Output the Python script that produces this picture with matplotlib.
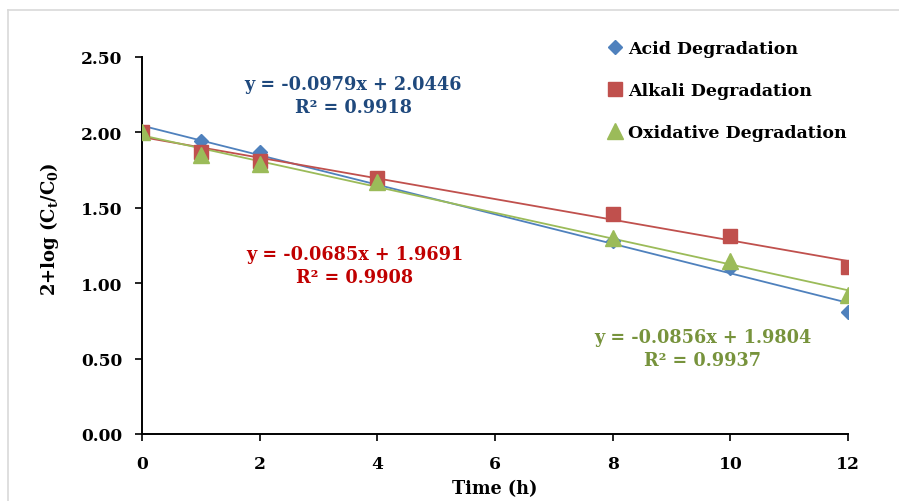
import numpy as np
import matplotlib.pyplot as plt
from matplotlib.lines import Line2D

# degradation data
time_h = [0, 1, 2, 4, 8, 10, 12]
acid = [2.00, 1.94, 1.87, 1.67, 1.28, 1.10, 0.81]
alkali = [2.00, 1.87, 1.81, 1.70, 1.46, 1.31, 1.11]
oxid = [2.00, 1.85, 1.79, 1.67, 1.30, 1.15, 0.92]

# trendline coefficients as printed on the chart
slopes = [-0.0979, -0.0685, -0.0856]
intercepts = [2.0446, 1.9691, 1.9804]
r2 = [0.9918, 0.9908, 0.9937]

labels = ["Acid Degradation", "Alkali Degradation", "Oxidative Degradation"]
markers = ["D", "s", "^"]
msizes = [7.5, 10, 11]
colors = ["#4F81BD", "#C0504D", "#9BBB59"]
text_colors = ["#1F497D", "#C00000", "#77933C"]
eq_pos = [(3.59, 2.245), (3.62, 1.117), (9.53, 0.567)]

FONT = "DejaVu Serif"
plt.rcParams['font.family'] = FONT
plt.rcParams['font.weight'] = 'bold'

fig = plt.figure(figsize=(8.99, 5.02), dpi=100)
ax = fig.add_axes([142/899, 1-435/502, (848-142)/899, (435-58)/502])

series = [acid, alkali, oxid]
xs = np.array([0, 12])
handles = []
for i in range(3):
    ax.plot(xs, slopes[i]*xs + intercepts[i], color=colors[i], lw=1.3, zorder=2)
for i in range(3):
    ax.plot(time_h, series[i], ls='none', marker=markers[i], ms=msizes[i],
            color=colors[i], zorder=3)
    handles.append(Line2D([], [], ls='none', marker=markers[i], ms=msizes[i],
                          color=colors[i]))
    ax.text(eq_pos[i][0], eq_pos[i][1],
            "y = {:.4f}x + {:.4f}\nR² = {:.4f}".format(slopes[i], intercepts[i], r2[i]),
            color=text_colors[i], fontsize=12.7, fontweight='bold',
            ha='center', va='center', linespacing=1.4)

ax.set_xlim(0, 12)
ax.set_ylim(0, 2.5)
ax.set_xticks(np.arange(0, 13, 2))
ax.set_yticks(np.arange(0, 2.51, 0.5))
ax.set_yticklabels(["{:.2f}".format(v) for v in np.arange(0, 2.51, 0.5)])
for s in ['top', 'right']:
    ax.spines[s].set_visible(False)
for s in ['left', 'bottom']:
    ax.spines[s].set_linewidth(1.4)
ax.tick_params(direction='out', length=5, width=1.2, labelsize=12.3)
ax.tick_params(axis='y', pad=9)
ax.tick_params(axis='x', pad=10)
ax.set_xlabel("Time (h)", fontsize=12.7, fontweight='bold', labelpad=5)
ax.set_ylabel(r"2+log (C$_\mathregular{t}$/C$_\mathregular{0}$)", fontsize=13,
              fontweight='bold')
ax.yaxis.set_label_coords(-0.115, 0.546)

fig.legend(handles, labels, loc='upper left', bbox_to_anchor=(586/899, 1-25/502),
           frameon=False, fontsize=12.5, handletextpad=0.0, labelspacing=1.45,
           handlelength=1.5)

# light frame around the chart area
fig.add_artist(Line2D([8/899, 1], [1-11/502]*2, color='#D9D9D9', lw=1.2))
fig.add_artist(Line2D([8/899]*2, [0, 1-11/502], color='#D9D9D9', lw=1.2))

fig.savefig("out.png", dpi=100)
